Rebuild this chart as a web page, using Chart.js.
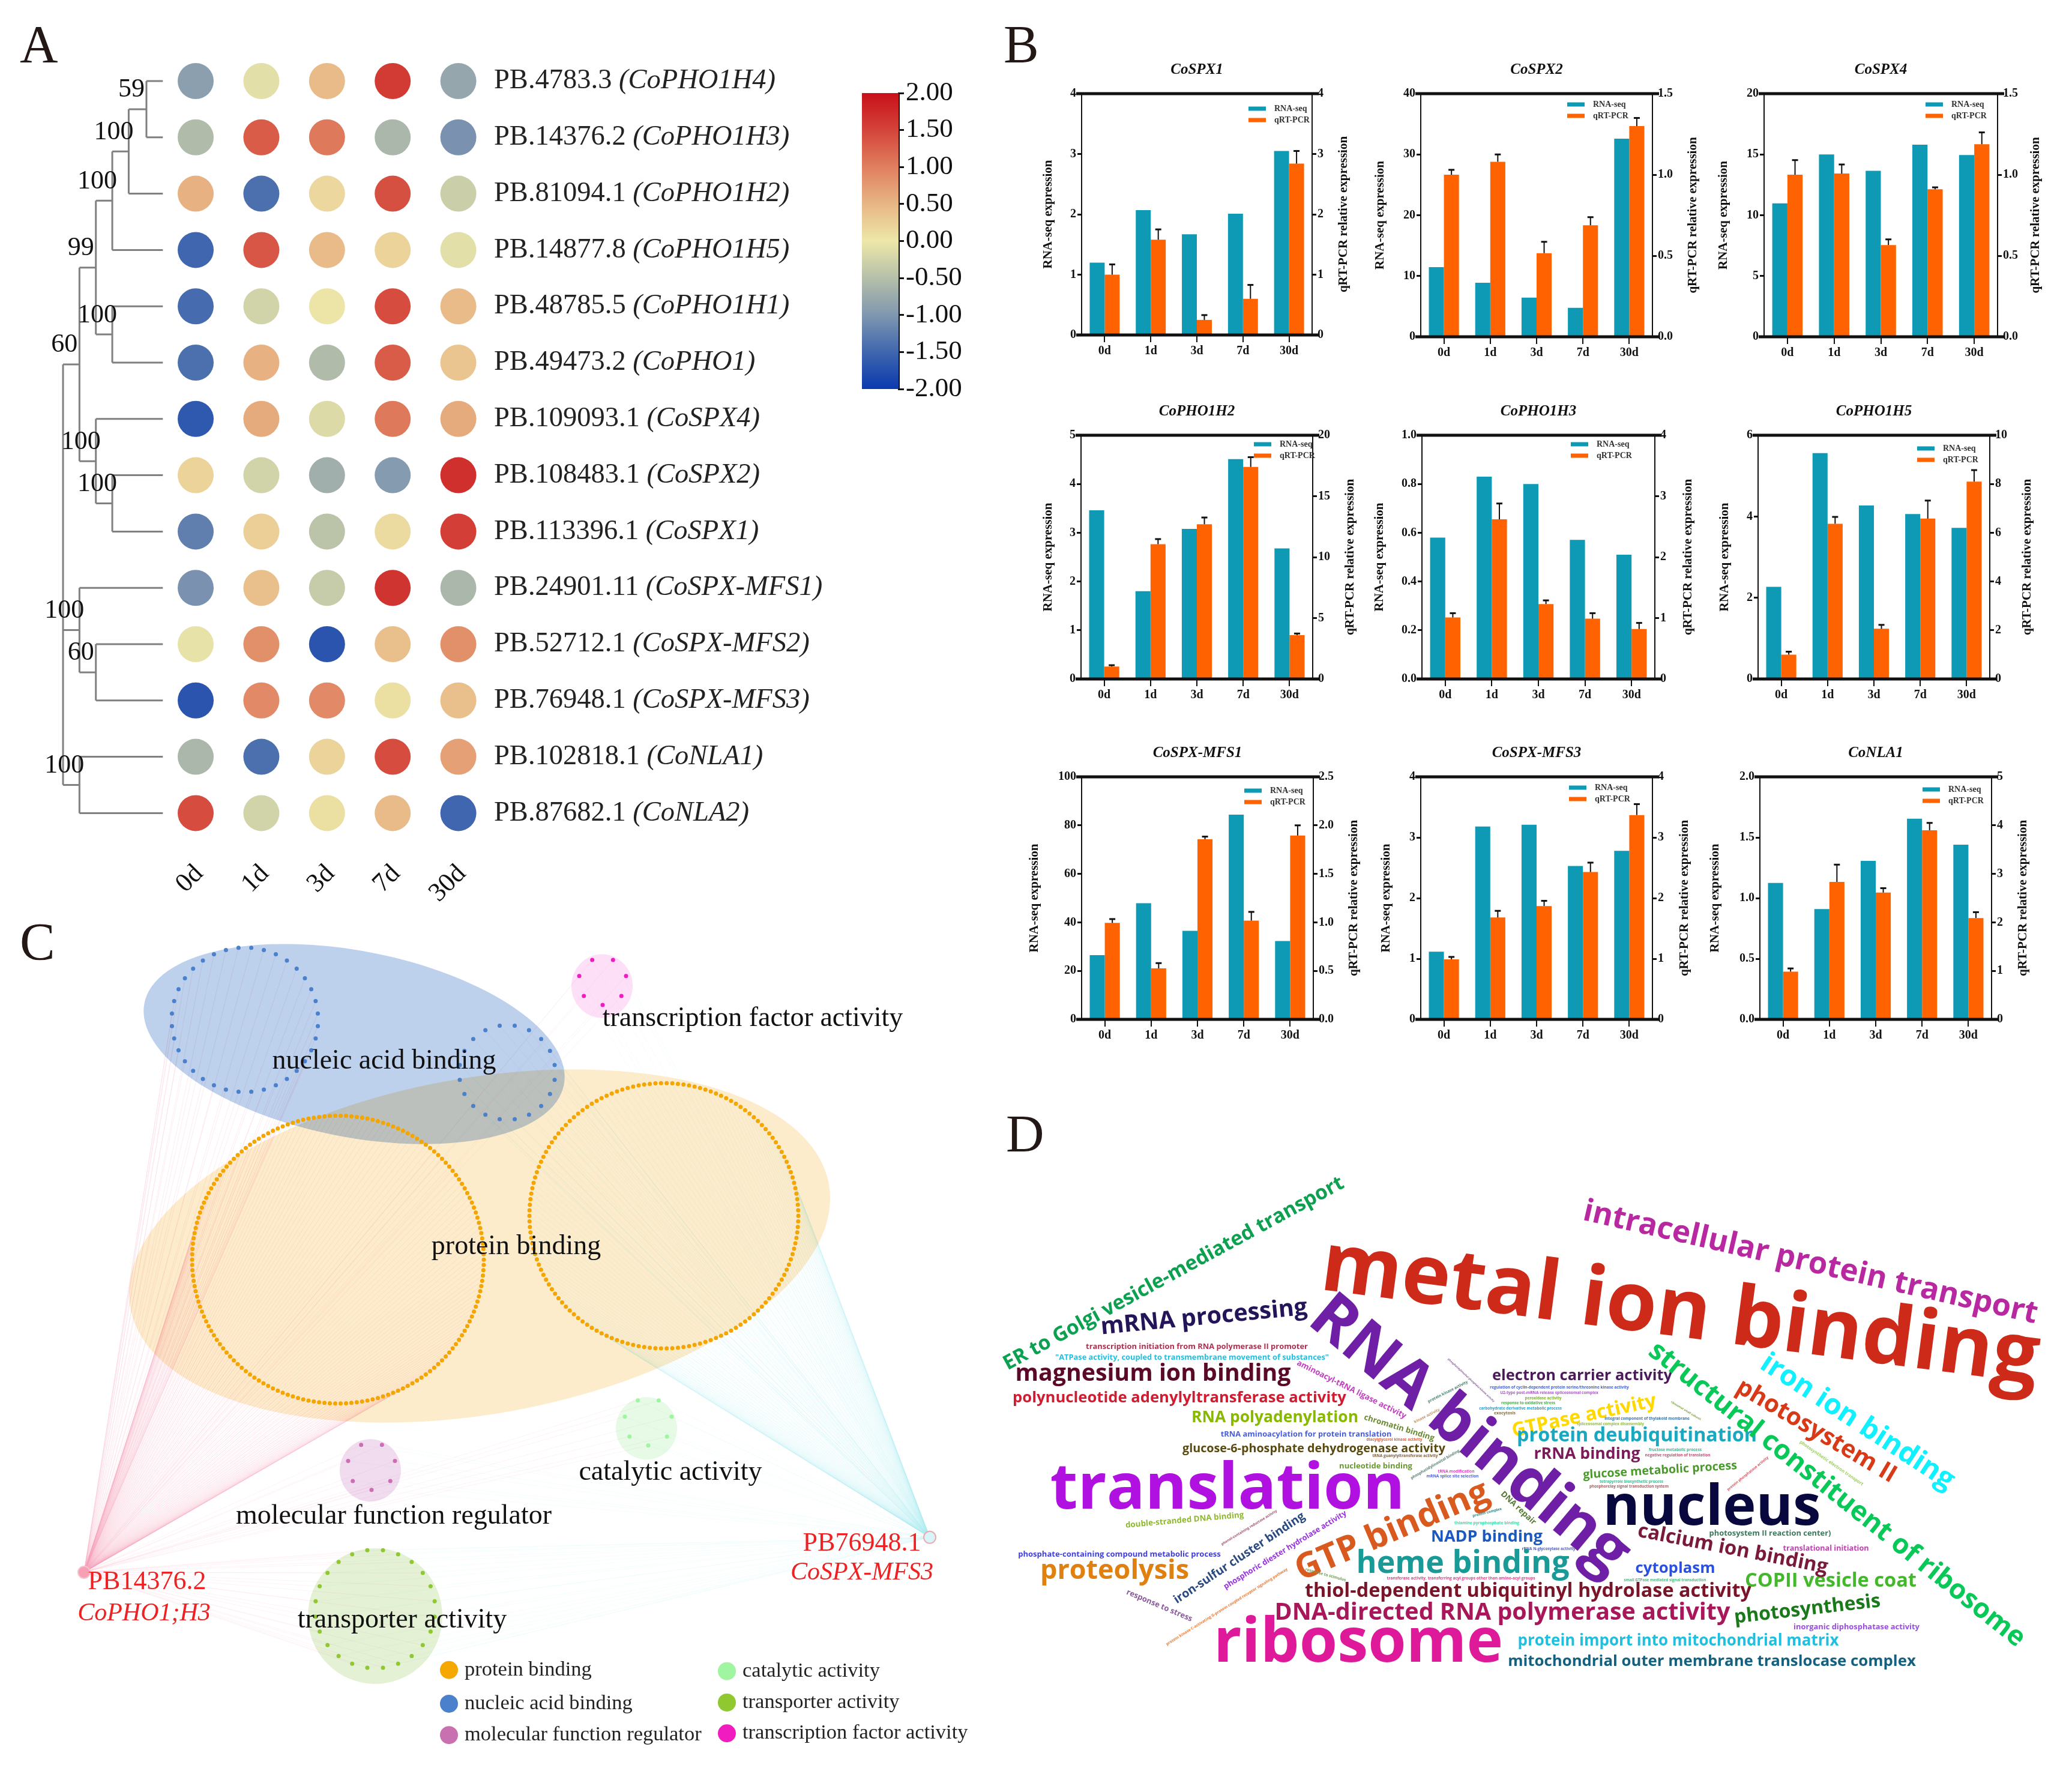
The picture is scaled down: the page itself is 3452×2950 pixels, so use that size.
<!DOCTYPE html>
<html>
<head>
<meta charset="utf-8">
<script src="https://cdn.jsdelivr.net/npm/chart.js@4"></script>
<style>
html,body{margin:0;padding:0;background:#fff;}
#page{position:relative;width:3452px;height:2950px;overflow:hidden;background:#fff;}
canvas{position:absolute;}
.letter{position:absolute;font:88px/1 "Liberation Serif",serif;color:#231815;}
</style>
</head>
<body>
<div id="page">
<div class="letter" style="left:33px;top:30px">A</div>
<div class="letter" style="left:1672px;top:30px">B</div>
<div class="letter" style="left:33px;top:1525px">C</div>
<div class="letter" style="left:1676px;top:1845px">D</div>
</div>
<script>
var SERIF = '"Liberation Serif", serif';

// ---------- panel A data
var days = ['0d','1d','3d','7d','30d'];
var geneIds = ['PB.4783.3','PB.14376.2','PB.81094.1','PB.14877.8','PB.48785.5','PB.49473.2','PB.109093.1','PB.108483.1','PB.113396.1','PB.24901.11','PB.52712.1','PB.76948.1','PB.102818.1','PB.87682.1'];
var geneNames = ['(CoPHO1H4)','(CoPHO1H3)','(CoPHO1H2)','(CoPHO1H5)','(CoPHO1H1)','(CoPHO1)','(CoSPX4)','(CoSPX2)','(CoSPX1)','(CoSPX-MFS1)','(CoSPX-MFS2)','(CoSPX-MFS3)','(CoNLA1)','(CoNLA2)'];
var zPHO1H4 = [-0.9,-0.1,0.45,1.6,-0.8];
var zPHO1H3 = [-0.55,1.3,1.05,-0.6,-1.05];
var zPHO1H2 = [0.55,-1.4,0.15,1.4,-0.3];
var zPHO1H5 = [-1.5,1.35,0.45,0.2,-0.1];
var zPHO1H1 = [-1.45,-0.25,0.02,1.42,0.45];
var zPHO1 = [-1.4,0.55,-0.55,1.3,0.35];
var zSPX4 = [-1.65,0.6,-0.15,1.05,0.6];
var zSPX2 = [0.2,-0.25,-0.7,-0.95,1.7];
var zSPX1 = [-1.25,0.25,-0.45,0.12,1.55];
var zMFS1 = [-1.05,0.4,-0.35,1.65,-0.6];
var zMFS2 = [-0.05,0.85,-1.7,0.4,0.85];
var zMFS3 = [-1.7,0.9,0.9,0.08,0.4];
var zNLA1 = [-0.6,-1.4,0.2,1.42,0.7];
var zNLA2 = [1.42,-0.25,0.08,0.45,-1.5];
var zRows = [zPHO1H4,zPHO1H3,zPHO1H2,zPHO1H5,zPHO1H1,zPHO1,zSPX4,zSPX2,zSPX1,zMFS1,zMFS2,zMFS3,zNLA1,zNLA2];
var barTicks = [-2,-1.5,-1,-0.5,0,0.5,1,1.5,2];
var barColors = ['#0b3aae','#3f66ae','#8097b0','#b5bfa9','#ede7a8','#e8b685','#e07f5f','#d4443a','#c8101a'];

// [x depth, support, children...]  a child number is a gene row
var tree = [-2.02,'',
  [-1.77,'60',
    [-1.52,'99',
      [-1.27,'100',
        [-1.02,'100',[-0.75,'59',0,1],2],
        3],
      [-1.27,'100',4,5]],
    [-1.52,'100',6,[-1.27,'100',7,8]]],
  [-1.77,'100',9,[-1.52,'60',10,11]],
  [-1.77,'100',12,13]];
var leafX = -0.5;

// ---------- panel B data
var bGenes = ['CoSPX1','CoSPX2','CoSPX4','CoPHO1H2','CoPHO1H3','CoPHO1H5','CoSPX-MFS1','CoSPX-MFS3','CoNLA1'];
var rnaSeq = [
  [1.2,2.07,1.67,2.01,3.05],
  [11.45,8.9,6.45,4.77,32.6],
  [10.97,15,13.65,15.8,14.95],
  [3.46,1.8,3.08,4.51,2.68],
  [0.58,0.83,0.8,0.571,0.51],
  [2.27,5.56,4.27,4.06,3.72],
  [26.5,47.9,36.5,84.4,32.3],
  [1.117,3.18,3.21,2.53,2.78],
  [1.125,0.91,1.307,1.655,1.44]];
var qPcr = [
  [1,1.58,0.25,0.6,2.84],
  [1,1.08,0.516,0.688,1.3],
  [1,1.007,0.566,0.91,1.188],
  [1.02,11.06,12.7,17.4,3.6],
  [1.01,2.62,1.23,0.99,0.82],
  [1,6.37,2.06,6.58,8.1],
  [0.994,0.526,1.857,1.018,1.895],
  [0.99,1.68,1.87,2.43,3.37],
  [0.985,2.835,2.615,3.9,2.09]];
var qErr = [
  [0.17,0.17,0.08,0.23,0.21],
  [0.03,0.045,0.07,0.05,0.05],
  [0.09,0.056,0.035,0.012,0.073],
  [0.11,0.42,0.55,0.8,0.13],
  [0.07,0.26,0.06,0.09,0.1],
  [0.12,0.28,0.16,0.74,0.47],
  [0.04,0.054,0.027,0.09,0.105],
  [0.04,0.11,0.085,0.155,0.18],
  [0.065,0.355,0.09,0.15,0.12]];
var leftMax = [4,40,20,5,1,6,100,4,2];
var leftStep = [1,10,5,1,0.2,2,20,1,0.5];
var rightMax = [4,1.5,1.5,20,4,10,2.5,4,5];
var rightStep = [1,0.5,0.5,5,1,2,0.5,1,1];

// panel B layout on the page
var boxLeft = [1802,2367,2939,1801,2369,2929,1802,2367,2932];
var boxRight = [2186,2753,3328,2187,2757,3315,2188,2753,3318];
var boxTop = [156,156,156,725,725,725,1294,1294,1294];
var boxBottom = [558,561,561,1131,1131,1131,1698,1698,1698];
var titleOffL = [56,68,68,55,71,56,79,58,75];
var titleOffR = [53,68,64,63,56,63,68,54,53];
var legendX = [278,244,269,288,248,265,271,247,271];
var legendY = [25,18,18,15,15,22,23,18,21];

// ---------- panel C data (layout units)
var ringCx = [408,845,563,1106,1004,619,1080,625];
var ringCy = [1700,1789,2105,2031,1635,2454,2379,2695];
var ringR = [122,80,243,224,40,40,40,100];
var ringN = [36,20,170,150,7,7,7,24];
var ringColor = ['#4a80cc','#4a80cc','#f5a500','#f5a500','#f01cc0','#cc6eb4','#a0f5a0','#8fc830'];
var ringDot = [3.5,3.5,3.5,3.5,3.5,3.5,3.5,3.5];
var blobCx = [799,590,1003,617,1077,625];
var blobCy = [2082,1741,1643,2461,2390,2707];
var blobRx = [591,356,51,51,51,112];
var blobRy = [280,155,53,52,52,113];
var blobAngle = [-10,11,0,0,0,0];
var blobColor = ['#fdeccc','#bdd0ec','#fde0f7','#f0dcee','#e6fae6','#e4f1d4'];
var cLabels = ['nucleic acid binding','transcription factor activity','protein binding','catalytic activity','molecular function regulator','transporter activity'];
var cLabelX = [640,1254,860,1117,656,670];
var cLabelY = [1770,1698,2084,2465,2539,2714];
var geneNodeX = [140,1549];
var geneNodeY = [2633,2574];
var legendNames = ['protein binding','nucleic acid binding','molecular function regulator','catalytic activity','transporter activity','transcription factor activity'];
var legendColors = ['#f5a800','#4a80cc','#c870b0','#a0f5a0','#8fc830','#f01cc0'];
var legendDotX = [748,748,748,1211,1211,1211];
var legendDotY = [2798,2855,2908,2800,2853,2905];

// ---------- panel D data
var words = ['metal ion binding','RNA binding','translation','nucleus','ribosome','GTP binding',
 'heme binding','thiol-dependent ubiquitinyl hydrolase activity','DNA-directed RNA polymerase activity','protein import into mitochondrial matrix','mitochondrial outer membrane translocase complex','photosynthesis',
 'COPII vesicle coat','inorganic diphosphatase activity','calcium ion binding','cytoplasm','photosystem II reaction center)','translational initiation',
 'small GTPase mediated signal transduction','rRNA N-glycosylase activity','transferase activity, transferring acyl groups other than amino-acyl groups','response to stimulus','NADP binding','DNA repair',
 'electron carrier activity','regulation of cyclin-dependent protein serine/threonine kinase activity','U2-type post-mRNA release spliceosomal complex','peroxidase activity','response to oxidative stress','carbohydrate derivative metabolic process',
 'exocytosis','GTPase activity','integral component of thylakoid membrane','spliceosomal complex disassembly','protein deubiquitination','rRNA binding',
 'fructose metabolic process','negative regulation of translation','glucose metabolic process','tetrapyrrole biosynthetic process','phosphorelay signal transduction system','ER to Golgi vesicle-mediated transport',
 'mRNA processing','transcription initiation from RNA polymerase II promoter','"ATPase activity, coupled to transmembrane movement of substances"','magnesium ion binding','polynucleotide adenylyltransferase activity','aminoacyl-tRNA ligase activity',
 'RNA polyadenylation','chromatin binding','tRNA aminoacylation for protein translation','diacylglycerol kinase activity','glucose-6-phosphate dehydrogenase activity','tRNA guanylyltransferase activity',
 'nucleotide binding','phosphatidylinositol binding','tRNA modification','mRNA splice site selection','protein kinase activity','phosphatidylinositol phosphate kinase activity',
 'kinase activity','protein complex','thiamine pyrophosphate binding','double-stranded DNA binding','phenol-containing reductase activity','iron-sulfur cluster binding',
 'phosphoric diester hydrolase activity','protein kinase C-activating G-protein coupled receptor signaling pathway','response to stress','phosphate-containing compound metabolic process','proteolysis','intracellular protein transport',
 'structural constituent of ribosome','iron ion binding','photosystem II','photosynthetic electron transport','protein phosphatase activity','ribosomal small subunit'];
var wordX = [2794,2428,2045,2852,2263,2326, 2437,2546,2503,2796,2852,3012, 3050,3093,2885,2791,2949,3042,
 2774,2580,2434,2208,2477,2527, 2636,2598,2581,2571,2546,2533, 2507,2641,2744,2683,2727,2644,
 2791,2795,2766,2718,2714,1960, 2007,1994,1986,1921,1965,2250, 2124,2330,2176,2323,2189,2341,
 2292,2392,2426,2420,2413,2450, 2378,2478,2477,1974,2082,2068, 2143,2045,1930,1865,1857,3013,
 3052,3087,3020,3050,2913,2808];
var wordY = [2226,2415,2513,2540,2768,2566, 2620,2660,2698,2741,2775,2690, 2643,2714,2590,2620,2558,2583,
 2634,2582,2631,2625,2568,2515, 2299,2313,2322,2331,2339,2348, 2356,2368,2365,2374,2401,2430,
 2417,2426,2455,2470,2478,2130, 2206,2247,2265,2300,2336,2318, 2369,2382,2393,2400,2419,2427,
 2446,2441,2453,2461,2320,2300, 2360,2521,2539,2536,2546,2600, 2585,2678,2678,2593,2630,2118,
 2500,2380,2394,2439,2456,2351];
var wordWidth = [1205,660,591,363,482,345, 355,744,759,535,680,245, 286,210,322,133,203,143,
 137,89,247,70,186,75, 300,232,164,61,90,138, 36,245,142,112,400,177,
 88,109,257,106,132,640, 346,370,456,459,556,202, 278,122,285,93,438,109,
 122,93,61,87,74,105, 47,50,108,198,108,258, 238,238,118,338,248,775,
 787,375,302,127,87,58];
var wordAngle = [7.5,40,0,0,0,-23, 0,0,0,0,0,-6.5, 0,0,11,0,0,0,
 0,0,0,15,0,43, 0,0,0,0,0,0, 0,-12,0,0,0,0,
 0,0,-3.5,0,0,-28.5, -5.5,0,0,0,0,26.5, 0,17,0,0,0,0,
 0,-30,0,0,-27,43, -27,-14,0,-5,-31.5,-33.7, -31.6,-32,23,0,0,12.9,
 38.5,33,30.5,34.4,-39,31];
var wordColor = ['#cd2a1a','#6f1fa5','#b010e0','#08083f','#df1a9a','#d95a1f',
 '#1a9a96','#7a1428','#a8175a','#20bfe0','#13607f','#1a7a1a',
 '#42b82a','#9a4de0','#7a1a3a','#2a50e0','#3a7a5a','#c040b0',
 '#40c080','#5060c0','#e0408a','#70a050','#1a5ac0','#5a7a3a',
 '#4a1a5a','#4060d0','#b050d0','#80b030','#40b040','#20a0d0',
 '#807040','#ffd800','#4070a0','#90c040','#1aa8c0','#7a1a5a',
 '#40b090','#c05070','#4a9a2a','#30c090','#a06060','#0ca050',
 '#241458','#b03050','#20c0e0','#5a0a28','#d01c30','#c040c0',
 '#88b800','#6a8a30','#4a60d8','#e06040','#5a4a10','#806040',
 '#6a9a30','#5a8070','#e040c0','#5060e0','#4a8070','#806090',
 '#c09060','#3a8080','#30e0a0','#90b830','#a05070','#2a4a80',
 '#9a30e0','#f07830','#8a5a9a','#4040e0','#e08010','#b828a0',
 '#08c858','#10f0ff','#d83a18','#a0d060','#e05060','#80a040'];

// ---------- helpers
function addCanvas(l,t,w,h){
  var c = document.createElement('canvas');
  c.width = w; c.height = h;
  c.style.left = l+'px'; c.style.top = t+'px';
  c.style.width = w+'px'; c.style.height = h+'px';
  document.getElementById('page').appendChild(c);
  return c.getContext('2d');
}
function hexRgb(h){ return [parseInt(h.substr(1,2),16),parseInt(h.substr(3,2),16),parseInt(h.substr(5,2),16)]; }
function colorOf(v){
  var i = 0;
  while(i < barTicks.length-2 && v > barTicks[i+1]) i++;
  var f = (v-barTicks[i])/(barTicks[i+1]-barTicks[i]);
  var a = hexRgb(barColors[i]), b = hexRgb(barColors[i+1]);
  return 'rgb('+Math.round(a[0]+(b[0]-a[0])*f)+','+Math.round(a[1]+(b[1]-a[1])*f)+','+Math.round(a[2]+(b[2]-a[2])*f)+')';
}
var baseOpt = {responsive:false,animation:false,devicePixelRatio:1,events:[],plugins:{legend:{display:false},tooltip:{enabled:false}}};
function opts(extra){ return Object.assign({},baseOpt,extra); }

// ---------- panel A: dots and tree
var dots = [], dotColors = [];
zRows.forEach(function(row,r){
  row.forEach(function(v,c){ dots.push({x:c,y:r}); dotColors.push(colorOf(v)); });
});
var treeLines = [], treeLabels = [];
function walk(node){
  var ys = [], x = node[0];
  node.slice(2).forEach(function(ch){
    var y, cx;
    if(typeof ch === 'number'){ y = ch; cx = leafX; }
    else { y = walk(ch); cx = ch[0]; }
    ys.push(y);
    treeLines.push({x:x,y:y},{x:cx,y:y},{x:NaN,y:NaN});
  });
  var top = ys[0], bot = ys[ys.length-1];
  treeLines.push({x:x,y:top},{x:x,y:bot},{x:NaN,y:NaN});
  var mid = node[1]==='' ? 0 : (top+bot)/2;
  if(node[1]!=='') treeLabels.push({x:x,y:mid,t:node[1]});
  return mid;
}
walk(tree);

new Chart(addCanvas(0,0,1650,1540),{
  type:'scatter',
  data:{datasets:[
    {data:dots,backgroundColor:dotColors,borderWidth:0,pointRadius:30,order:0},
    {data:treeLines,showLine:true,spanGaps:false,borderColor:'#808080',borderWidth:3,pointRadius:0,order:1}
  ]},
  options:opts({
    layout:{padding:0,autoPadding:false},
    scales:{
      x:{type:'linear',min:-326/109.4,max:(1650-326)/109.4,
        afterBuildTicks:function(s){ s.ticks = days.map(function(d,i){return {value:i};}); },
        afterFit:function(s){ s.height = 120; s.paddingLeft = 0; s.paddingRight = 0; },
        grid:{display:false},border:{display:false},
        ticks:{callback:function(v){return days[v];},color:'#111',font:{family:SERIF,size:44},minRotation:45,maxRotation:45,padding:2,labelOffset:6,autoSkip:false}},
      y:{type:'linear',reverse:true,display:false,min:-135/93.8,max:(1420-135)/93.8}
    }
  }),
  plugins:[{id:'geneText',afterDraw:function(ch){
    var c = ch.ctx, ys = ch.scales.y, xs = ch.scales.x;
    c.save(); c.textBaseline='middle'; c.fillStyle='#222';
    geneIds.forEach(function(id,i){
      var y = ys.getPixelForValue(i), x = 823;
      c.font = '46.5px '+SERIF; c.textAlign='left';
      c.fillText(id+' ',x,y);
      x += c.measureText(id+' ').width;
      c.font = 'italic 46.5px '+SERIF;
      c.fillText(geneNames[i],x,y);
    });
    c.font = '44px '+SERIF; c.textAlign='center'; c.fillStyle='#111';
    treeLabels.forEach(function(l){
      c.fillText(l.t,xs.getPixelForValue(l.x)-25,ys.getPixelForValue(l.y)-32);
    });
    c.restore();
  }}]
});

// colour bar
new Chart(addCanvas(1436,133,190,532),{
  type:'bar',
  data:{labels:['z'],datasets:[{data:[[-2,2]],barPercentage:1,categoryPercentage:1,
    backgroundColor:function(ctx){
      var a = ctx.chart.chartArea;
      if(!a) return '#ccc';
      var g = ctx.chart.ctx.createLinearGradient(0,a.bottom,0,a.top);
      barTicks.forEach(function(t,i){ g.addColorStop(i/(barTicks.length-1),barColors[i]); });
      return g;
    }}]},
  options:opts({
    layout:{padding:{top:22,bottom:17},autoPadding:false},
    scales:{
      x:{display:false},
      y:{position:'right',min:-2,max:2,
        afterBuildTicks:function(s){ s.ticks = barTicks.slice().reverse().map(function(v){return {value:v};}); },
        afterFit:function(s){ s.width = 129; s.paddingTop = 0; s.paddingBottom = 0; },
        border:{color:'#111',width:3},
        grid:{drawOnChartArea:false,color:'#111',tickLength:9,lineWidth:3},
        ticks:{callback:function(v){return v.toFixed(2);},color:'#111',font:{family:SERIF,size:45},padding:3,autoSkip:false}}
    }
  })
});

// ---------- panel B
var bFont = {family:SERIF,size:20,weight:'bold'};
bGenes.forEach(function(gene,i){
  var w = boxRight[i]-boxLeft[i], h = boxBottom[i]-boxTop[i];
  var decR = rightStep[i] < 1 ? 1 : 0, decL = leftStep[i] < 1 ? 1 : 0;
  new Chart(addCanvas(boxLeft[i]-90,boxTop[i]-60,w+180,h+110),{
    type:'bar',
    data:{labels:days,datasets:[
      {label:'RNA-seq',data:rnaSeq[i],backgroundColor:'#0e9ab4',yAxisID:'y',barPercentage:1,categoryPercentage:0.65},
      {label:'qRT-PCR',data:qPcr[i],backgroundColor:'#ff6200',yAxisID:'y2',barPercentage:1,categoryPercentage:0.65}
    ]},
    options:opts({
      layout:{padding:0,autoPadding:false},
      plugins:{legend:{display:false},tooltip:{enabled:false},
        title:{display:true,text:gene,color:'#111',font:{family:SERIF,size:25,weight:'bold',style:'italic'},padding:{top:6,bottom:24}}},
      scales:{
        x:{afterFit:function(s){ s.height = 50; },
          grid:{display:true,drawOnChartArea:false,offset:false,color:'#111',tickLength:12,lineWidth:2},
          border:{color:'#111',width:2},
          ticks:{color:'#111',font:bFont,padding:3,maxRotation:0}},
        y:{position:'left',min:0,max:leftMax[i],
          afterFit:function(s){ s.width = 90; },
          grid:{drawOnChartArea:false,color:'#111',tickLength:7,lineWidth:3},
          border:{color:'#111',width:2},
          title:{display:true,text:'RNA-seq expression',color:'#111',font:{family:SERIF,size:21,weight:'bold'},padding:{top:90-titleOffL[i]-12,bottom:0}},
          ticks:{stepSize:leftStep[i],color:'#111',font:bFont,padding:2,autoSkip:false,callback:function(v){return v.toFixed(decL);}}},
        y2:{position:'right',min:0,max:rightMax[i],
          afterFit:function(s){ s.width = 90; },
          grid:{drawOnChartArea:false,color:'#111',tickLength:7,lineWidth:3},
          border:{color:'#111',width:2},
          ticks:{stepSize:rightStep[i],color:'#111',font:bFont,padding:2,autoSkip:false,callback:function(v){return v.toFixed(decR);}}}
      }
    }),
    plugins:[{id:'frameBits',afterDraw:function(ch){
      var c = ch.ctx, a = ch.chartArea, y2 = ch.scales.y2;
      c.save();
      // heavy top and bottom rules
      c.strokeStyle = '#111'; c.lineWidth = 5;
      c.beginPath();
      c.moveTo(a.left-9,a.top); c.lineTo(a.right+11,a.top);
      c.moveTo(a.left-9,a.bottom); c.lineTo(a.right+11,a.bottom);
      c.stroke();
      // error bars, upper side only
      var bars = ch.getDatasetMeta(1).data;
      c.lineWidth = 2;
      qPcr[i].forEach(function(v,k){
        var x = bars[k].x, y0 = y2.getPixelForValue(v), y1 = y2.getPixelForValue(v+qErr[i][k]);
        c.beginPath(); c.moveTo(x,y0); c.lineTo(x,y1); c.stroke();
        c.fillStyle = '#111'; c.fillRect(x-5,y1-1.5,10,3);
      });
      // legend
      c.font = 'bold 14px '+SERIF; c.textBaseline='middle'; c.textAlign='left';
      ch.data.datasets.forEach(function(ds,k){
        var lx = a.left+legendX[i], ly = a.top+legendY[i]+k*19;
        c.fillStyle = ds.backgroundColor; c.fillRect(lx,ly-3.5,29,7);
        c.fillStyle = '#333'; c.fillText(ds.label,lx+43,ly);
      });
      // right axis title reads upward like the left one
      c.translate(a.right+titleOffR[i],(a.top+a.bottom)/2);
      c.rotate(-Math.PI/2);
      c.font = 'bold 21px '+SERIF; c.textAlign='center'; c.fillStyle='#111';
      c.fillText('qRT-PCR relative expression',0,0);
      c.restore();
    }}]
  });
});

// ---------- panel C: network
function ringPoints(k){
  var pts = [], n = ringN[k];
  for(var j=0;j<n;j++){
    var t = -Math.PI/2 + Math.PI/n + j*2*Math.PI/n;
    pts.push({x:ringCx[k]+ringR[k]*Math.cos(t),y:ringCy[k]+ringR[k]*Math.sin(t)});
  }
  return pts;
}
var rings = ringN.map(function(n,k){ return ringPoints(k); });
function fan(gene,ringList){
  var out = [];
  ringList.forEach(function(k){
    rings[k].forEach(function(p){
      out.push({x:geneNodeX[gene],y:geneNodeY[gene]},p,{x:NaN,y:NaN});
    });
  });
  return out;
}
function edgeSet(pts,color,ord){
  return {data:pts,showLine:true,spanGaps:false,borderColor:color,borderWidth:1,pointRadius:0,order:ord};
}
var cSets = [
  edgeSet(fan(0,[0,2]),'rgba(243,160,185,0.2)',20),
  edgeSet(fan(1,[1,3]),'rgba(170,235,242,0.2)',21),
  edgeSet(fan(0,[4,5,6,7]),'rgba(243,160,185,0.12)',22),
  edgeSet(fan(1,[4,5,6,7]),'rgba(170,235,242,0.12)',23)
];
rings.forEach(function(pts,k){
  cSets.push({data:pts,backgroundColor:ringColor[k],borderWidth:0,pointRadius:ringDot[k],order:5});
});
cSets.push({data:[{x:geneNodeX[0],y:geneNodeY[0]}],backgroundColor:'#f5a0b4',borderColor:'#f8c0d0',borderWidth:2,pointRadius:10,order:1});
cSets.push({data:[{x:geneNodeX[1],y:geneNodeY[1]}],backgroundColor:'#d8f6fa',borderColor:'#f0a8b0',borderWidth:2,pointRadius:10,order:1});
cSets.push({data:legendDotX.map(function(x,i){return {x:x,y:legendDotY[i]};}),backgroundColor:legendColors,borderWidth:0,pointRadius:15,order:1});

new Chart(addCanvas(0,1520,1660,1430),{
  type:'scatter',
  data:{datasets:cSets},
  options:opts({
    layout:{padding:0,autoPadding:false},
    scales:{
      x:{type:'linear',display:false,min:0,max:1660},
      y:{type:'linear',display:false,reverse:true,min:1518.9,max:2968.6}
    }
  }),
  plugins:[{id:'blobs',
    afterDatasetDraw:function(ch,args){
      // the soft category areas sit over the edges, under the nodes
      if(args.index !== 0) return;
      var c = ch.ctx, xs = ch.scales.x, ys = ch.scales.y;
      c.save();
      c.globalCompositeOperation = 'multiply';
      blobCx.forEach(function(cx,i){
        c.fillStyle = blobColor[i];
        c.beginPath();
        c.ellipse(xs.getPixelForValue(cx),ys.getPixelForValue(blobCy[i]),blobRx[i],blobRy[i],blobAngle[i]*Math.PI/180,0,2*Math.PI);
        c.fill();
      });
      c.restore();
    },
    afterDraw:function(ch){
      var c = ch.ctx, xs = ch.scales.x, ys = ch.scales.y;
      c.save();
      c.textBaseline='middle'; c.textAlign='center'; c.fillStyle='#111';
      c.font = '46px '+SERIF;
      cLabels.forEach(function(t,i){ c.fillText(t,xs.getPixelForValue(cLabelX[i]),ys.getPixelForValue(cLabelY[i])); });
      c.fillStyle = '#ee2222';
      c.font = '44px '+SERIF;
      c.fillText('PB14376.2',xs.getPixelForValue(245),ys.getPixelForValue(2650));
      c.fillText('PB76948.1',xs.getPixelForValue(1436),ys.getPixelForValue(2585));
      c.font = 'italic 42px '+SERIF;
      c.fillText('CoPHO1;H3',xs.getPixelForValue(240),ys.getPixelForValue(2703));
      c.fillText('CoSPX-MFS3',xs.getPixelForValue(1436),ys.getPixelForValue(2634));
      c.fillStyle = '#222'; c.textAlign='left';
      c.font = '34.5px '+SERIF;
      legendNames.forEach(function(t,i){
        c.fillText(t,xs.getPixelForValue(legendDotX[i]+26),ys.getPixelForValue(legendDotY[i]));
      });
      c.restore();
    }
  }]
});

// ---------- panel D: word cloud
new Chart(addCanvas(1650,1900,1802,1050),{
  type:'scatter',
  data:{datasets:[{data:wordX.map(function(x,i){return {x:x,y:wordY[i]};}),pointRadius:0}]},
  options:opts({
    layout:{padding:0,autoPadding:false},
    scales:{
      x:{type:'linear',display:false,min:1650,max:3452},
      y:{type:'linear',display:false,reverse:true,min:1900,max:2950}
    }
  }),
  plugins:[{id:'wordText',afterDatasetsDraw:function(ch){
    var c = ch.ctx, xs = ch.scales.x, ys = ch.scales.y;
    c.save();
    c.textAlign='center'; c.textBaseline='alphabetic';
    words.forEach(function(t,i){
      c.font = '700 100px "Open Sans", sans-serif';
      var size = 100*wordWidth[i]/c.measureText(t).width;
      c.font = '700 '+size.toFixed(2)+'px "Open Sans", sans-serif';
      c.save();
      c.translate(xs.getPixelForValue(wordX[i]),ys.getPixelForValue(wordY[i]));
      c.rotate(wordAngle[i]*Math.PI/180);
      c.fillStyle = wordColor[i];
      c.fillText(t,0,0);
      c.restore();
    });
    c.restore();
  }}]
});
</script>
</body>
</html>
